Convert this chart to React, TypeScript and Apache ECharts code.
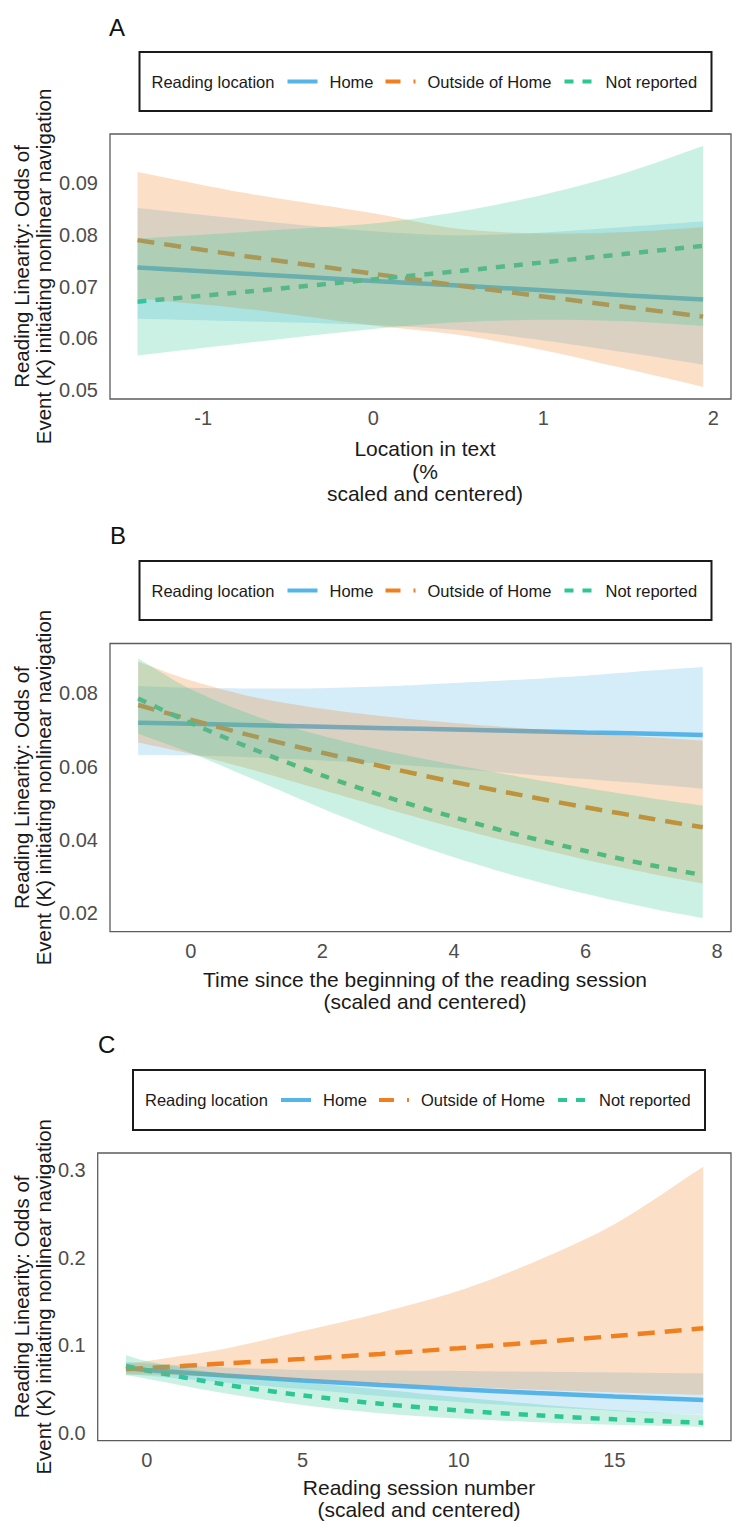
import React, { useEffect, useRef } from "react";
import * as echarts from "echarts";

const FONT = "'Liberation Sans', Arial, Helvetica, sans-serif";

// ---------- texts ----------
const groupNames = ["Home", "Outside of Home", "Not reported"];
const legendTitle = "Reading location";
const panelLetters = ["A", "B", "C"];
const yTitleLines = ["Reading Linearity: Odds of", "Event (K) initiating nonlinear navigation"];
const xTitleA = ["Location in text", "(%", "scaled and centered)"];
const xTitleB = ["Time since the beginning of the reading session", "(scaled and centered)"];
const xTitleC = ["Reading session number", "(scaled and centered)"];

// ---------- Panel A: location in text ----------
const locX = [-1.386, -0.75, 0, 0.5, 1, 1.5, 1.94];
const locHomeFit = [0.0737, 0.0725, 0.0711, 0.0702, 0.0693, 0.0683, 0.0675];
const locHomeLo = [0.0638, 0.0633, 0.0626, 0.0616, 0.0596, 0.0572, 0.0549];
const locHomeHi = [0.0852, 0.083, 0.0807, 0.0799, 0.0805, 0.0816, 0.0826];
const locOutFit = [0.079, 0.0759, 0.0725, 0.0702, 0.0681, 0.066, 0.0642];
const locOutLo = [0.0677, 0.0657, 0.0625, 0.0607, 0.0577, 0.054, 0.0506];
const locOutHi = [0.0922, 0.0881, 0.0842, 0.0812, 0.0803, 0.0806, 0.0815];
const locNrFit = [0.0671, 0.069, 0.0714, 0.073, 0.0747, 0.0764, 0.0779];
const locNrLo = [0.0567, 0.0591, 0.0618, 0.0631, 0.0636, 0.0633, 0.0624];
const locNrHi = [0.0793, 0.0806, 0.0822, 0.0845, 0.0878, 0.0922, 0.0972];

// ---------- Panel B: time since beginning of session ----------
const timeX = [-0.8, 0, 1, 2, 3, 4, 5, 6, 7, 7.78];
const timeHomeFit = [0.072, 0.0717, 0.0713, 0.0709, 0.0705, 0.0701, 0.0697, 0.0693, 0.069, 0.0686];
const timeHomeLo = [0.0632, 0.0631, 0.0625, 0.0617, 0.0607, 0.0594, 0.058, 0.0566, 0.0552, 0.054];
const timeHomeHi = [0.082, 0.0815, 0.0813, 0.0814, 0.0819, 0.0828, 0.0837, 0.0848, 0.0862, 0.0872];
const timeOutFit = [0.0768, 0.0728, 0.0681, 0.0638, 0.0597, 0.0558, 0.0523, 0.0489, 0.0458, 0.04345];
const timeOutLo = [0.0666, 0.0635, 0.0588, 0.0536, 0.0484, 0.0434, 0.0388, 0.0346, 0.0308, 0.0281];
const timeOutHi = [0.0886, 0.0835, 0.0788, 0.0758, 0.0736, 0.0719, 0.0705, 0.0692, 0.068, 0.0671];
const timeNrFit = [0.0786, 0.0719, 0.0644, 0.0576, 0.0516, 0.0462, 0.0413, 0.037, 0.0331, 0.0304];
const timeNrLo = [0.069, 0.0637, 0.0562, 0.0486, 0.0415, 0.0353, 0.0299, 0.0253, 0.0213, 0.0187];
const timeNrHi = [0.0895, 0.0811, 0.0737, 0.0684, 0.0641, 0.0605, 0.0572, 0.0542, 0.0514, 0.0494];

// ---------- Panel C: reading session number ----------
const sessX = [-0.668, 0, 2.5, 5, 7.5, 10, 12.5, 15, 17.85];
const sessHomeFit = [0.0735, 0.0717, 0.0654, 0.0597, 0.0545, 0.0497, 0.0453, 0.0414, 0.0373];
const sessHomeLo = [0.0667, 0.0651, 0.0574, 0.0498, 0.0418, 0.035, 0.0295, 0.0249, 0.0205];
const sessHomeHi = [0.081, 0.079, 0.0745, 0.0715, 0.071, 0.0705, 0.0695, 0.0688, 0.0678];
const sessOutFit = [0.0724, 0.0738, 0.079, 0.0843, 0.09, 0.0965, 0.1033, 0.1104, 0.1192];
const sessOutLo = [0.0664, 0.0664, 0.064, 0.0605, 0.0563, 0.0525, 0.049, 0.046, 0.0432];
const sessOutHi = [0.0789, 0.082, 0.096, 0.116, 0.137, 0.162, 0.196, 0.238, 0.3037];
const sessNrFit = [0.0761, 0.071, 0.055, 0.0426, 0.033, 0.0255, 0.0198, 0.0153, 0.0114];
const sessNrLo = [0.0655, 0.0617, 0.045, 0.0316, 0.0221, 0.0161, 0.012, 0.009, 0.0066];
const sessNrHi = [0.0884, 0.0817, 0.0672, 0.0575, 0.0492, 0.0404, 0.0326, 0.026, 0.0198];

// ---------- styles ----------
const LINE_COLORS = ["#56B4E9", "#F0801F", "#2BC894"];
const RIBBON_COLORS = ["rgba(86,180,233,0.25)", "rgba(240,128,31,0.25)", "rgba(43,200,148,0.25)"];
const LINE_DASH: any[] = ["solid", [17, 10], [9, 9]];
const LEGEND_DASH: any[] = [null, [15, 13], [9, 9]];

const panels = [
  {
    x: locX,
    fit: [locHomeFit, locOutFit, locNrFit],
    lo: [locHomeLo, locOutLo, locNrLo],
    hi: [locHomeHi, locOutHi, locNrHi],
    grid: { left: 110, top: 134, width: 630, height: 265 },
    xMin: -1.548, xMax: 2.104, yMin: 0.04826, yMax: 0.09954,
    xStep: 1, yStep: 0.01, yDec: 2,
    legend: { x: 139.5, y: 52, w: 572, h: 59 },
    letter: { x: 109, y: 27 },
    xTitle: xTitleA, xTitleY: [448, 471, 493], xTitleX: 425,
  },
  {
    x: timeX,
    fit: [timeHomeFit, timeOutFit, timeNrFit],
    lo: [timeHomeLo, timeOutLo, timeNrLo],
    hi: [timeHomeHi, timeOutHi, timeNrHi],
    grid: { left: 110, top: 643.5, width: 630, height: 288.2 },
    xMin: -1.228, xMax: 8.21, yMin: 0.01498, yMax: 0.09358,
    xStep: 2, yStep: 0.02, yDec: 2,
    legend: { x: 139.5, y: 561, w: 572, h: 59 },
    letter: { x: 110, y: 535 },
    xTitle: xTitleB, xTitleY: [979, 1001], xTitleX: 425,
  },
  {
    x: sessX,
    fit: [sessHomeFit, sessOutFit, sessNrFit],
    lo: [sessHomeLo, sessOutLo, sessNrLo],
    hi: [sessHomeHi, sessOutHi, sessNrHi],
    grid: { left: 97.7, top: 1153, width: 642.3, height: 287.7 },
    xMin: -1.575, xMax: 18.74, yMin: -0.00914, yMax: 0.3194,
    xStep: 5, yStep: 0.1, yDec: 1,
    legend: { x: 133, y: 1070, w: 572, h: 60 },
    letter: { x: 98, y: 1044 },
    xTitle: xTitleC, xTitleY: [1487, 1509], xTitleX: 419,
  },
];

const onStep = (v: number, step: number) => Math.abs(v / step - Math.round(v / step)) < 1e-6;

function buildOption() {
  const series: any[] = [];
  panels.forEach((p, pi) => {
    for (let g = 0; g < 3; g++) {
      series.push({
        type: "line",
        name: groupNames[g],
        xAxisIndex: pi,
        yAxisIndex: pi,
        data: p.x.map((x, i) => [x, p.fit[g][i]]),
        symbol: "none",
        showSymbol: false,
        smooth: 0.3,
        silent: true,
        z: 2,
        lineStyle: { color: LINE_COLORS[g], width: 4.5, type: LINE_DASH[g], cap: "butt" },
      });
    }
    for (let g = 0; g < 3; g++) {
      const xs = p.x;
      const lo = p.lo[g];
      const hi = p.hi[g];
      series.push({
        type: "custom",
        name: groupNames[g] + " interval",
        xAxisIndex: pi,
        yAxisIndex: pi,
        coordinateSystem: "cartesian2d",
        silent: true,
        z: 3,
        data: xs.map((x, i) => [x, lo[i], hi[i]]),
        encode: { x: 0, y: [1, 2] },
        renderItem: (params: any, api: any) => {
          if (params.dataIndex !== 0) return null;
          const up = xs.map((x, i) => api.coord([x, hi[i]]));
          const dn = xs.map((x, i) => api.coord([x, lo[i]])).reverse();
          const n = up.length - 1;
          const pts = [...up, up[n], dn[0], ...dn, dn[n], up[0]];
          return {
            type: "polygon",
            shape: { points: pts, smooth: 0.3 },
            style: { fill: RIBBON_COLORS[g], stroke: null },
          };
        },
      });
    }
  });

  const graphic: any[] = [];
  panels.forEach((p, pi) => {
    graphic.push({
      type: "text",
      x: p.letter.x,
      y: p.letter.y,
      style: { text: panelLetters[pi], fontSize: 24, fontFamily: FONT, fill: "#111", textAlign: "left", textVerticalAlign: "middle" },
    });
    const L = p.legend;
    const cy = L.y + L.h / 2;
    graphic.push({
      type: "rect",
      shape: { x: L.x, y: L.y, width: L.w, height: L.h },
      style: { fill: "#fff", stroke: "#1a1a1a", lineWidth: 2 },
      z: 10,
    });
    const txt = (text: string, dx: number) => ({
      type: "text",
      x: L.x + dx,
      y: cy,
      z: 11,
      style: { text, fontSize: 16.5, fontFamily: FONT, fill: "#1a1a1a", textAlign: "left", textVerticalAlign: "middle" },
    });
    const sym = (g: number, dx: number, len: number) => ({
      type: "line",
      z: 11,
      shape: { x1: L.x + dx, y1: cy, x2: L.x + dx + len, y2: cy },
      style: { stroke: LINE_COLORS[g], lineWidth: 4, lineDash: LEGEND_DASH[g], lineCap: "butt" },
    });
    graphic.push(txt(legendTitle, 12));
    graphic.push(sym(0, 148, 30));
    graphic.push(txt(groupNames[0], 190));
    graphic.push(sym(1, 246, 30));
    graphic.push(txt(groupNames[1], 288));
    graphic.push(sym(2, 425, 27));
    graphic.push(txt(groupNames[2], 466));
    const yc = p.grid.top + p.grid.height / 2;
    graphic.push({
      type: "text", x: 21.7, y: yc, rotation: Math.PI / 2,
      style: { text: yTitleLines[0], fontSize: 20.5, fontFamily: FONT, fill: "#1a1a1a", textAlign: "center", textVerticalAlign: "middle" },
    });
    graphic.push({
      type: "text", x: 43.3, y: yc, rotation: Math.PI / 2,
      style: { text: yTitleLines[1], fontSize: 20.5, fontFamily: FONT, fill: "#1a1a1a", textAlign: "center", textVerticalAlign: "middle" },
    });
    p.xTitle.forEach((t, i) => {
      graphic.push({
        type: "text", x: p.xTitleX, y: p.xTitleY[i],
        style: { text: t, fontSize: 21, fontFamily: FONT, fill: "#1a1a1a", textAlign: "center", textVerticalAlign: "middle" },
      });
    });
  });

  return {
    animation: false,
    backgroundColor: "#ffffff",
    grid: panels.map((p) => ({
      ...p.grid,
      show: true,
      borderColor: "#5c5c5c",
      borderWidth: 1.3,
      backgroundColor: "transparent",
      containLabel: false,
    })),
    xAxis: panels.map((p, pi) => ({
      type: "value",
      gridIndex: pi,
      min: p.xMin,
      max: p.xMax,
      axisLine: { show: false },
      axisTick: { show: false },
      splitLine: { show: false },
      axisLabel: {
        fontSize: 20,
        color: "#4d4d4d",
        fontFamily: FONT,
        margin: 9,
        formatter: (v: number) => (onStep(v, p.xStep) ? String(Math.round(v)) : ""),
      },
    })),
    yAxis: panels.map((p, pi) => ({
      type: "value",
      gridIndex: pi,
      min: p.yMin,
      max: p.yMax,
      axisLine: { show: false },
      axisTick: { show: false },
      splitLine: { show: false },
      axisLabel: {
        fontSize: 20,
        color: "#4d4d4d",
        fontFamily: FONT,
        margin: 12,
        formatter: (v: number) => (onStep(v, p.yStep) ? v.toFixed(p.yDec) : ""),
      },
    })),
    series,
    graphic: { elements: graphic },
  };
}

export default function App() {
  const ref = useRef<HTMLDivElement>(null);
  useEffect(() => {
    if (!ref.current) return;
    const chart = echarts.init(ref.current, undefined, { renderer: "svg" });
    chart.setOption(buildOption() as any);
    return () => chart.dispose();
  }, []);
  return (
    <div
      ref={ref}
      style={{ position: "absolute", left: 0, top: 0, width: 734, height: 1521, background: "#fff" }}
    />
  );
}
